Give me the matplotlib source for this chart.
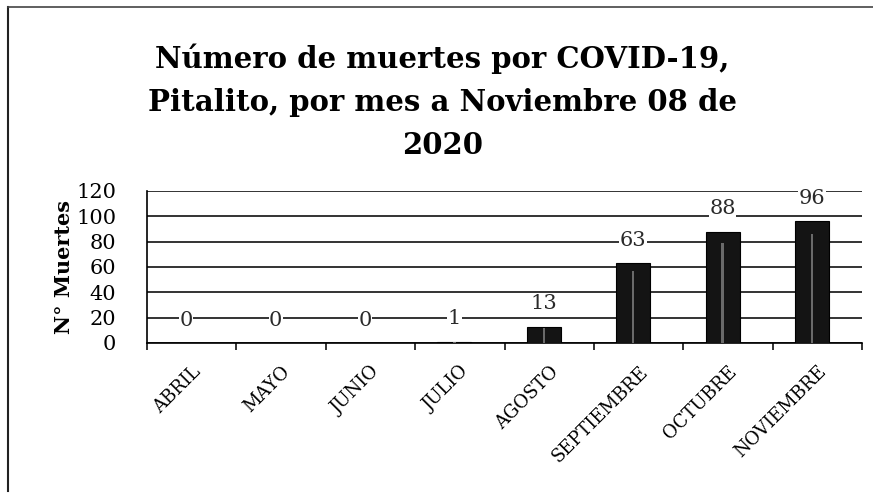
import matplotlib.pyplot as plt
from matplotlib.lines import Line2D

# Chart data
meses = ['ABRIL', 'MAYO', 'JUNIO', 'JULIO', 'AGOSTO',
         'SEPTIEMBRE', 'OCTUBRE', 'NOVIEMBRE']
muertes = [0, 0, 0, 1, 13, 63, 88, 96]
y_ticks = [0, 20, 40, 60, 80, 100, 120]

titulo = 'Número de muertes por COVID-19,\nPitalito, por mes a Noviembre 08 de\n2020'
serif = ['DejaVu Serif']

fig = plt.figure(figsize=(8.73, 5.01), dpi=100)
ax = fig.add_axes([147 / 873, 1 - 343 / 501, (862 - 147) / 873, (343 - 191) / 501])

x = list(range(len(meses)))
xb = [xi - 0.06 for xi in x]  # bars sit a little left of the category centre
ax.bar(xb, muertes, width=0.38, color='#141414', edgecolor='#000000',
       linewidth=0.8, zorder=3)
# faint highlight down the middle of each bar (scanned 3D look)
ax.bar(xb, [v * 0.9 for v in muertes], width=0.025, color='#6a6a6a',
       linewidth=0, zorder=4)

# value labels sit a bit above each bar
for xi, v in zip(xb, muertes):
    ax.text(xi, v + 18, str(v), ha='center', va='center', fontsize=15,
            family=serif, color='#2a2a2a', zorder=5,
            bbox=dict(boxstyle='square,pad=0.02', fc='white', ec='none'))

ax.set_xlim(-0.5, len(meses) - 0.5)
ax.set_ylim(0, 120)
ax.set_yticks(y_ticks)
ax.set_yticklabels([str(t) for t in y_ticks], family=serif, fontsize=15)
ax.yaxis.grid(True, color='#111111', linewidth=1.2, zorder=0)
ax.set_axisbelow(True)

# category ticks sit between bars
ax.set_xticks([i - 0.5 for i in range(len(meses) + 1)], minor=False)
ax.set_xticklabels([''] * (len(meses) + 1))
ax.set_xticks(x, minor=True)
ax.set_xticklabels(meses, minor=True, rotation=45, ha='right',
                   rotation_mode='anchor', family=serif, fontsize=13)
ax.tick_params(axis='x', which='minor', length=0, pad=14)
ax.tick_params(axis='x', which='major', length=5, width=1.2, color='#111111')
ax.tick_params(axis='y', length=0, pad=22)

for side in ['top', 'right']:
    ax.spines[side].set_visible(False)
ax.spines['left'].set_linewidth(1.2)
ax.spines['bottom'].set_linewidth(1.2)

ax.set_ylabel('N° Muertes', family=serif, fontweight='bold', fontsize=15,
              labelpad=2)

fig.text(0.507, 1 - 160 / 501, titulo, ha='center', va='bottom', family=serif,
         fontweight='bold', fontsize=21, linespacing=1.6)

# scanned page border (left and top only)
fig.add_artist(Line2D([8 / 873, 8 / 873], [0.02, 1 - 7 / 501],
                      transform=fig.transFigure, color='#222222', linewidth=1.5))
fig.add_artist(Line2D([8 / 873, 1.0], [1 - 7 / 501, 1 - 7 / 501],
                      transform=fig.transFigure, color='#444444', linewidth=1.2))

fig.savefig('out.png', dpi=100)
